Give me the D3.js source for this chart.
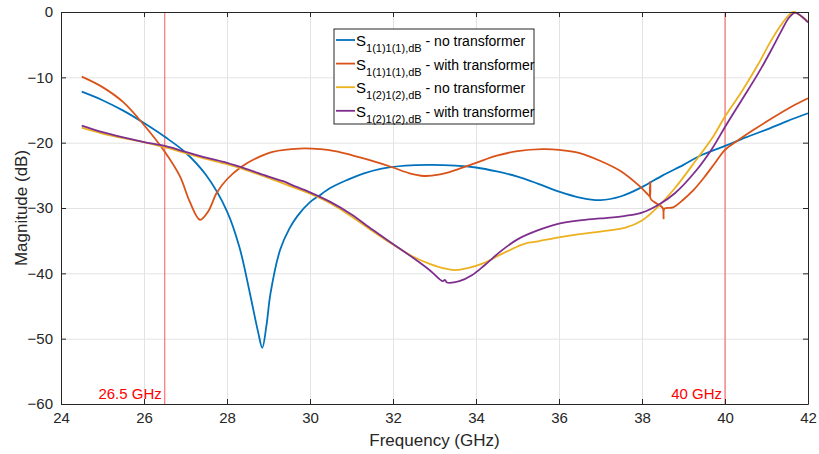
<!DOCTYPE html>
<html>
<head>
<meta charset="utf-8">
<script src="https://cdn.jsdelivr.net/npm/d3@7"></script>
<style>
  body { margin: 0; background: #fff; }
  text { font-family: "Liberation Sans", Arial, sans-serif; }
</style>
</head>
<body>
<div class="canvas"></div>
<script>
// x / y ticks
const xTicks = [24, 26, 28, 30, 32, 34, 36, 38, 40, 42];
const yTicks = [0, -10, -20, -30, -40, -50, -60];

// S11 no transformer (blue)
const s11NoF = [24.5, 25, 25.5, 26, 26.5, 27, 27.5, 28, 28.3, 28.55, 28.75, 28.85, 28.95, 29.05, 29.28, 29.5, 29.7, 30, 30.2, 30.5, 30.9, 31.3, 31.7, 32.3, 32.9, 33.5, 34, 34.5, 35, 35.5, 36, 36.5, 37, 37.5, 38, 38.5, 39, 39.4, 40, 40.5, 41, 41.5, 42];
const s11NoV = [-12.2, -13.5, -15.1, -17.0, -19.1, -21.5, -25.0, -30.5, -36.0, -43, -49, -51.4, -48, -43, -36.4, -33.2, -31.2, -29.1, -28.2, -26.9, -25.7, -24.7, -24.0, -23.5, -23.4, -23.5, -23.8, -24.4, -25.2, -26.3, -27.5, -28.4, -28.8, -28.2, -26.8, -25.0, -23.4, -22.0, -20.5, -19.2, -18.0, -16.7, -15.5];

// S11 with transformer (orange)
const s11TrF = [24.5, 25, 25.5, 26, 26.5, 26.87, 27.1, 27.35, 27.55, 27.75, 28, 28.35, 28.7, 29.1, 29.75, 30.25, 30.6, 31, 31.5, 32, 32.4, 32.75, 33.1, 33.5, 34, 34.5, 35, 35.6, 36, 36.5, 37, 37.5, 37.95, 38.15, 38.19, 38.2, 38.21, 38.35, 38.5, 38.52, 38.54, 38.75, 39, 39.25, 39.5, 39.75, 40, 40.3, 40.7, 41.2, 41.6, 42];
const s11TrV = [-9.9, -11.5, -13.8, -17.3, -21.4, -25.2, -29.0, -31.8, -30.5, -27.7, -25.6, -23.7, -22.4, -21.4, -20.9, -21.0, -21.3, -21.9, -22.8, -23.8, -24.7, -25.1, -24.9, -24.2, -23.1, -22.0, -21.3, -21.0, -21.1, -21.6, -22.8, -24.4, -26.7, -28.0, -28.2, -26.0, -28.6, -29.3, -30.0, -31.6, -30.1, -29.9, -28.7, -27.2, -25.3, -23.2, -21.1, -19.7, -18.0, -16.0, -14.5, -13.2];

// S22 no transformer (yellow)
const s22NoF = [24.5, 25, 25.5, 26, 26.5, 27, 27.5, 28, 28.5, 29, 29.5, 30, 30.5, 31, 31.5, 32, 32.5, 32.9, 33.2, 33.5, 33.8, 34.2, 34.6, 35, 35.2, 35.5, 36, 36.5, 37, 37.6, 38, 38.4, 38.8, 39.3, 39.7, 40, 40.4, 40.8, 41.1, 41.35, 41.55, 41.65, 41.8, 42];
const s22NoV = [-17.7, -18.6, -19.3, -19.9, -20.7, -21.6, -22.5, -23.3, -24.3, -25.4, -26.6, -27.8, -29.3, -31.3, -33.5, -35.6, -37.5, -38.6, -39.2, -39.5, -39.2, -38.4, -37.1, -35.9, -35.4, -35.1, -34.5, -34.0, -33.6, -33.0, -31.9, -29.7, -26.9, -22.7, -19.2, -16.0, -12.2, -8.0, -4.5, -2.0, -0.4, 0, -0.5, -1.5];

// S22 with transformer (purple)
const s22TrF = [24.5, 25, 25.5, 26, 26.5, 27, 27.5, 28, 28.5, 29, 29.4, 29.5, 30, 30.5, 31, 31.5, 32, 32.5, 32.9, 33.2, 33.25, 33.3, 33.6, 33.9, 34.2, 34.6, 35, 35.5, 36, 36.5, 37, 37.6, 38, 38.4, 38.8, 39.3, 39.7, 40, 40.4, 40.8, 41.1, 41.35, 41.55, 41.7, 41.85, 42];
const s22TrV = [-17.4, -18.4, -19.2, -19.9, -20.5, -21.4, -22.3, -23.1, -24.1, -25.2, -26.0, -26.3, -27.6, -29.1, -31.0, -33.3, -35.5, -37.7, -39.6, -41.2, -41.0, -41.4, -41.2, -40.3, -38.8, -36.6, -34.8, -33.4, -32.4, -31.9, -31.6, -31.2, -30.7, -29.5, -27.7, -24.3, -20.8, -17.6, -13.5, -9.4, -6.0, -3.0, -0.8, -0.1, -0.7, -1.6];

// band markers
const markerF = [26.5, 40];
const markerLabels = ["26.5 GHz", "40 GHz"];

const series = [
  { name: "1(1)1(1),dB", note: " - no transformer", f: s11NoF, v: s11NoV, color: "#0072BD" },
  { name: "1(1)1(1),dB", note: " - with transformer", f: s11TrF, v: s11TrV, color: "#D95319" },
  { name: "1(2)1(2),dB", note: " - no transformer", f: s22NoF, v: s22NoV, color: "#EDB120" },
  { name: "1(2)1(2),dB", note: " - with transformer", f: s22TrF, v: s22TrV, color: "#7E2F8E" }
];

const margin = { top: 12, right: 11, bottom: 50, left: 61 };
const width = 819, height = 454;
const graphWidth = width - margin.left - margin.right;
const graphHeight = height - margin.top - margin.bottom;

const svg = d3.select(".canvas").append("svg")
  .attr("width", width)
  .attr("height", height);

const graph = svg.append("g")
  .attr("transform", `translate(${margin.left}, ${margin.top})`);

const x = d3.scaleLinear().domain([24, 42]).range([0, graphWidth]);
const y = d3.scaleLinear().domain([-60, 0]).range([graphHeight, 0]);

// grid
graph.append("g")
  .attr("transform", `translate(0, ${graphHeight})`)
  .call(d3.axisBottom(x).tickValues(xTicks).tickSize(-graphHeight).tickFormat(""))
  .call(g => g.select(".domain").remove())
  .call(g => g.selectAll("line").attr("stroke", "#e3e3e3"));
graph.append("g")
  .call(d3.axisLeft(y).tickValues(yTicks).tickSize(-graphWidth).tickFormat(""))
  .call(g => g.select(".domain").remove())
  .call(g => g.selectAll("line").attr("stroke", "#e3e3e3"));

// marker lines
graph.selectAll(".marker").data(markerF).enter().append("line")
  .attr("class", "marker")
  .attr("x1", d => x(d)).attr("x2", d => x(d))
  .attr("y1", 0).attr("y2", graphHeight)
  .attr("stroke", "#ff3b3b").attr("stroke-opacity", 0.85).attr("stroke-width", 1);

graph.selectAll(".markerLabel").data(markerF).enter().append("text")
  .attr("class", "markerLabel")
  .attr("x", d => x(d) - 3)
  .attr("y", graphHeight - 5)
  .attr("text-anchor", "end")
  .attr("fill", "#ff0000")
  .attr("font-size", 15)
  .text((d, i) => markerLabels[i]);

// curves
const line = d3.line()
  .x(d => x(d[0]))
  .y(d => y(d[1]))
  .curve(d3.curveCatmullRom.alpha(0.5));

series.forEach(s => {
  graph.append("path")
    .datum(s.f.map((f, i) => [f, s.v[i]]))
    .attr("fill", "none")
    .attr("stroke", s.color)
    .attr("stroke-width", 1.8)
    .attr("stroke-linejoin", "round")
    .attr("d", line);
});

// axes (ticks inside, MATLAB box)
const axisColor = "#262626";
const styleAxis = g => {
  g.select(".domain").attr("stroke", axisColor);
  g.selectAll(".tick line").attr("stroke", axisColor);
  g.selectAll(".tick text").attr("fill", axisColor).attr("font-size", 15)
    .attr("font-family", '"Liberation Sans", Arial, sans-serif');
};

graph.append("g")
  .attr("transform", `translate(0, ${graphHeight})`)
  .call(d3.axisBottom(x).tickValues(xTicks).tickSizeInner(-5).tickSizeOuter(0).tickPadding(8))
  .call(styleAxis);
graph.append("g")
  .call(d3.axisTop(x).tickValues(xTicks).tickSizeInner(-5).tickSizeOuter(0).tickFormat(""))
  .call(styleAxis);
graph.append("g")
  .call(d3.axisLeft(y).tickValues(yTicks).tickSizeInner(-5).tickSizeOuter(0).tickPadding(8))
  .call(styleAxis);
graph.append("g")
  .attr("transform", `translate(${graphWidth}, 0)`)
  .call(d3.axisRight(y).tickValues(yTicks).tickSizeInner(-5).tickSizeOuter(0).tickFormat(""))
  .call(styleAxis);

// axis titles
svg.append("text")
  .attr("x", margin.left + graphWidth / 2)
  .attr("y", 446)
  .attr("text-anchor", "middle")
  .attr("font-size", 17)
  .attr("fill", axisColor)
  .text("Frequency (GHz)");

svg.append("text")
  .attr("transform", `translate(27, ${margin.top + graphHeight / 2}) rotate(-90)`)
  .attr("text-anchor", "middle")
  .attr("font-size", 17)
  .attr("fill", axisColor)
  .text("Magnitude (dB)");

// legend
const legend = svg.append("g").attr("transform", "translate(334, 29)");
legend.append("rect")
  .attr("width", 200).attr("height", 95)
  .attr("fill", "#fff").attr("stroke", axisColor).attr("stroke-width", 1);

series.forEach((s, i) => {
  const row = legend.append("g").attr("transform", `translate(0, ${11 + i * 23.6})`);
  row.append("line")
    .attr("x1", 2).attr("x2", 21).attr("y1", 0).attr("y2", 0)
    .attr("stroke", s.color).attr("stroke-width", 1.8);
  const t = row.append("text").attr("x", 22).attr("y", 6).attr("fill", "#000");
  t.append("tspan").attr("font-size", 15).text("S");
  t.append("tspan").attr("font-size", 11).attr("dy", 6).text(s.name);
  t.append("tspan").attr("font-size", 14).attr("dy", -6).text(s.note);
});
</script>
</body>
</html>
